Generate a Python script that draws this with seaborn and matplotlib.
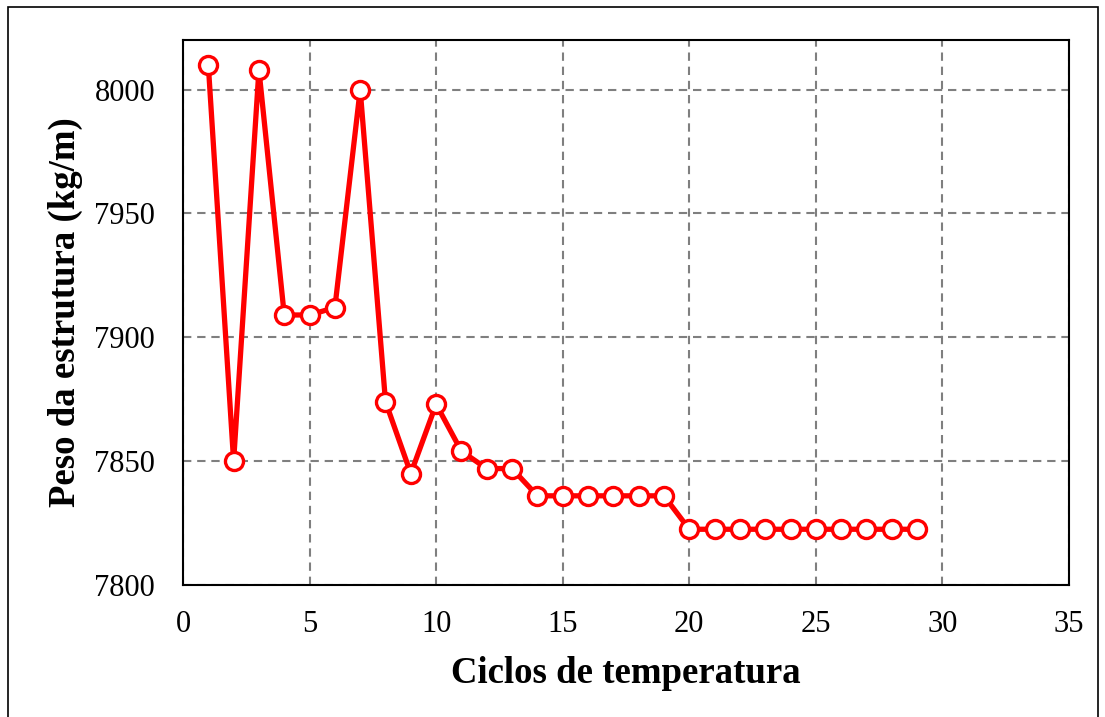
import matplotlib
matplotlib.use("Agg")
import matplotlib.pyplot as plt
import seaborn as sns
import pandas as pd
from matplotlib.patches import Rectangle

ciclos = list(range(1, 30))
peso = [8010, 7850, 8008, 7909, 7909, 7912, 8000, 7874, 7845, 7873,
        7854, 7847, 7847, 7836, 7836, 7836, 7836, 7836, 7836,
        7822.5, 7822.5, 7822.5, 7822.5, 7822.5, 7822.5, 7822.5, 7822.5, 7822.5, 7822.5]
xticks = [0, 5, 10, 15, 20, 25, 30, 35]
yticks = [7800, 7850, 7900, 7950, 8000]

sns.set_style("white")
plt.rcParams['font.family'] = ['Liberation Serif', 'DejaVu Serif']
plt.rcParams['text.color'] = 'black'
plt.rcParams['axes.labelcolor'] = 'black'
plt.rcParams['xtick.color'] = 'black'
plt.rcParams['ytick.color'] = 'black'

fig = plt.figure(figsize=(11.05, 7.17), dpi=100)
ax = fig.add_axes([0.1656, 0.1841, 0.9674 - 0.1656, 0.9442 - 0.1841])

df = pd.DataFrame({"x": ciclos, "y": peso})
sns.lineplot(data=df, x="x", y="y", ax=ax, color="#ff0000", linewidth=3.8,
             marker="o", markersize=13, markerfacecolor="white",
             markeredgecolor="#ff0000", markeredgewidth=2.4)

ax.set_xlim(0, 35)
ax.set_ylim(7800, 8020)
ax.set_xticks(xticks)
ax.set_yticks(yticks)
ax.tick_params(axis='both', length=0, labelsize=22)
ax.tick_params(axis='x', pad=18)
ax.tick_params(axis='y', pad=20)
ax.grid(True, color="#7f7f7f", linestyle=(0, (4, 2.8)), linewidth=1.5)
ax.set_axisbelow(True)
for s in ax.spines.values():
    s.set_color("black")
    s.set_linewidth(1.5)

ax.set_xlabel("Ciclos de temperatura", fontsize=26.5, fontweight="bold", labelpad=12)
ax.set_ylabel("Peso da estrutura (kg/m)", fontsize=26.5, fontweight="bold", labelpad=8)

fig.patches.append(Rectangle((0.007, -0.01), 0.987, 1.0, transform=fig.transFigure,
                             fill=False, edgecolor="black", linewidth=1.2))

fig.savefig("out.png", dpi=100)
